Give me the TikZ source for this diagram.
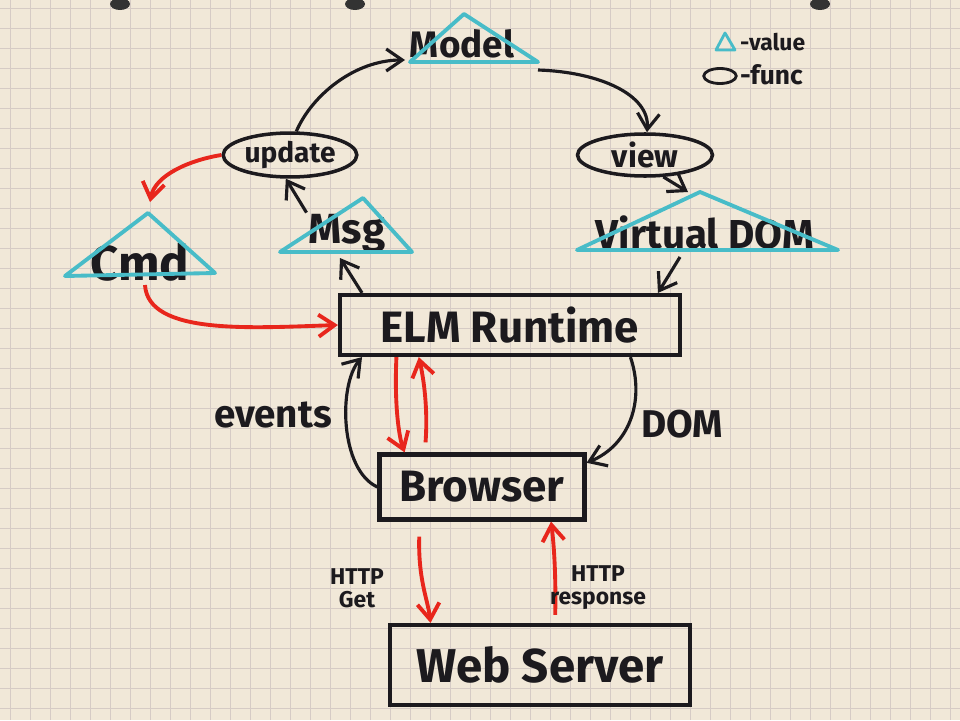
\documentclass[tikz,border=0pt]{standalone}
\usepackage{fontspec}
\setmainfont{Fira Sans}
\usetikzlibrary{arrows.meta,positioning,shapes.geometric,calc}

\definecolor{paper}{RGB}{241,232,216}
\definecolor{gridline}{RGB}{214,203,197}
\definecolor{marker}{RGB}{28,26,30}
\definecolor{tealpen}{RGB}{72,188,200}
\definecolor{redpen}{RGB}{232,38,28}

\begin{document}
\begin{tikzpicture}[x=0.02cm,y=-0.02cm,
  hand/.style={font=\bfseries\fontsize{#1}{#1}\selectfont, text=marker, inner sep=1pt, align=center},
  func/.style={draw=marker, line width=2pt, ellipse, inner sep=0pt, minimum height=0.8cm},
  runbox/.style={draw=marker, line width=2.4pt, rectangle, inner sep=0pt},
  valtri/.style={draw=tealpen, line width=2.2pt, line join=round},
  arr/.style={draw=marker, line width=1.8pt, -{Straight Barb[length=3.2mm,width=4.4mm]}},
  redarr/.style={arr, draw=redpen, line width=2.2pt}
]
% paper
\fill[paper] (0,0) rectangle (960,720);
\useasboundingbox (0,0) rectangle (960,720);
\foreach \gx in {10,30,...,950} \draw[gridline, line width=0.5pt] (\gx,0) -- (\gx,720);
\foreach \gy in {8,28,...,708} \draw[gridline, line width=0.5pt] (0,\gy) -- (960,\gy);
\foreach \hx in {120,355,820} \fill[black!80] (\hx,4) ellipse (10 and 6);

% values (triangles)
\node[hand=21] (model) at (462,44) {Model};
\draw[valtri] (410,62) -- (464,14) -- (538,62) -- cycle;
\node[hand=28] (cmd) at (140,262) {Cmd};
\draw[valtri] (65,276) -- (148,213) -- (215,273) -- cycle;
\node[hand=24] (msg) at (347,234) {Msg};
\draw[valtri] (280,252) -- (363,198) -- (412,252) -- cycle;
\node[hand=23] (vdom) at (705,232) {Virtual DOM};
\draw[valtri] (577,250) -- (700,192) -- (838,250) -- cycle;

% functions (ellipses)
\node[func, minimum width=2.6cm, hand=16] (update) at (290,155) {update};
\node[func, minimum width=2.7cm, hand=18] (view) at (645,155) {view};

% boxes
\node[runbox, minimum width=6.8cm, minimum height=1.2cm, hand=25] (elm) at (510,325) {ELM Runtime};
\node[runbox, minimum width=4.1cm, minimum height=1.3cm, hand=25] (browser) at (482,487) {Browser};
\node[runbox, minimum width=6cm, minimum height=1.6cm, hand=27] (server) at (540,665) {Web Server};

% legend
\draw[valtri, line width=1.6pt] (716,50) -- (725,33) -- (735,50) -- cycle;
\node[hand=13, anchor=west] (lval) at (738,42) {-value};
\node[func, line width=1.6pt, minimum width=0.65cm, minimum height=0.3cm] (lfun) at (720,76) {};
\node[hand=15, anchor=west] (lfunc) at (738,75) {-func};

% black flow
\draw[arr] (update.75) .. controls (312,95) and (355,60) .. (405,60);
\draw[arr] (538,70) .. controls (600,72) and (650,95) .. (view.85);
\draw[arr] (view.-50) -- (688,192);
\draw[arr] (msg.north west) -- (update.-100);
\draw[arr] ($(elm.north west)!0.07!(elm.north east)$) -- (340,258);
\draw[arr] (680,257) -- ($(elm.north west)!0.93!(elm.north east)$);
\draw[arr] (browser.west) .. controls (340,470) and (338,385) .. ($(elm.south west)!0.07!(elm.south east)$);
\draw[arr] ($(elm.south west)!0.85!(elm.south east)$) .. controls (645,400) and (630,445) .. ($(browser.north east)!0.15!(browser.south east)$);

% red flow
\draw[redarr] (update.west) .. controls (190,160) and (155,175) .. (150,202);
\draw[redarr] (145,285) .. controls (148,335) and (250,328) .. (elm.west);
\draw[redarr] ($(elm.south west)!0.17!(elm.south east)$) .. controls (394,410) and (400,440) .. ($(browser.north west)!0.13!(browser.north east)$);
\draw[redarr] ($(browser.north west)!0.23!(browser.north east)$) ++(0,-10) .. controls (428,410) and (424,380) .. ($(elm.south west)!0.235!(elm.south east)$);
\draw[redarr] ($(browser.south west)!0.2!(browser.south east)$) ++(0,15) .. controls (418,580) and (428,600) .. ($(server.north west)!0.14!(server.north east)$);
\draw[redarr] ($(server.north west)!0.55!(server.north east)$) ++(0,-8) .. controls (556,575) and (554,545) .. ($(browser.south west)!0.83!(browser.south east)$);

% labels
\node[hand=22] (events) at (273,415) {events};
\node[hand=22] (dom) at (682,424) {DOM};
\node[hand=13] (get) at (357,588) {HTTP\\Get};
\node[hand=13] (resp) at (598,588) {HTTP\\response};
\end{tikzpicture}
\end{document}
